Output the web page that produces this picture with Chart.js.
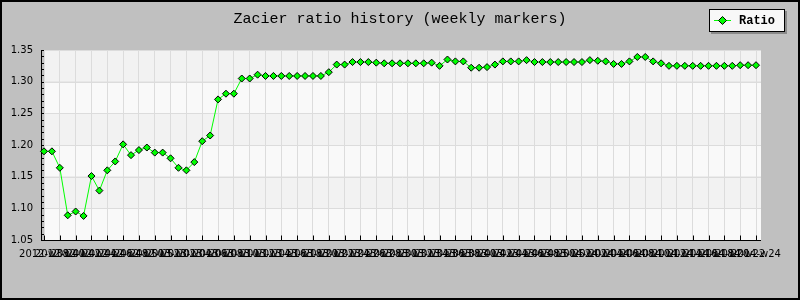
<!DOCTYPE html>
<html>
<head>
<meta charset="utf-8">
<script src="https://cdn.jsdelivr.net/npm/chart.js@4/dist/chart.umd.min.js"></script>
<style>
html,body{margin:0;padding:0;background:#c0c0c0;}
#wrap{width:800px;height:300px;}
</style>
</head>
<body>
<div id="wrap"><canvas id="c" width="800" height="300"></canvas></div>
<script>
const chartTitle = 'Zacier ratio history (weekly markers)';
const seriesName = 'Ratio';

const categories = [
 '2012-w38','2012-w39','2012-w40','2012-w41','2012-w42','2012-w43','2012-w44','2012-w45','2012-w46','2012-w47',
 '2012-w48','2012-w49','2012-w50','2012-w51','2012-w52','2013-w01','2013-w02','2013-w03','2013-w04','2013-w05',
 '2013-w06','2013-w07','2013-w08','2013-w09','2013-w10','2013-w11','2013-w12','2013-w13','2013-w14','2013-w15',
 '2013-w16','2013-w17','2013-w18','2013-w19','2013-w20','2013-w21','2013-w22','2013-w23','2013-w24','2013-w25',
 '2013-w26','2013-w27','2013-w28','2013-w29','2013-w30','2013-w31','2013-w32','2013-w33','2013-w34','2013-w35',
 '2013-w36','2013-w37','2013-w38','2013-w39','2013-w40','2013-w41','2013-w42','2013-w43','2013-w44','2013-w45',
 '2013-w46','2013-w47','2013-w48','2013-w49','2013-w50','2013-w51','2013-w52','2014-w01','2014-w02','2014-w03',
 '2014-w04','2014-w05','2014-w06','2014-w07','2014-w08','2014-w09','2014-w10','2014-w11','2014-w12','2014-w13',
 '2014-w14','2014-w15','2014-w16','2014-w17','2014-w18','2014-w19','2014-w20','2014-w21','2014-w22','2014-w23',
 '2014-w24'
];

const ratio = [
 1.190,1.190,1.164,1.089,1.095,1.088,1.151,1.128,1.160,1.174,
 1.201,1.184,1.192,1.196,1.188,1.188,1.179,1.164,1.160,1.173,
 1.206,1.215,1.272,1.281,1.281,1.305,1.305,1.311,1.309,1.309,
 1.309,1.309,1.309,1.309,1.309,1.309,1.315,1.327,1.327,1.331,
 1.331,1.331,1.330,1.329,1.329,1.329,1.329,1.329,1.329,1.330,
 1.325,1.335,1.332,1.332,1.322,1.322,1.323,1.327,1.332,1.332,
 1.332,1.334,1.331,1.331,1.331,1.331,1.331,1.331,1.331,1.334,
 1.333,1.332,1.328,1.328,1.332,1.339,1.339,1.332,1.329,1.325,
 1.325,1.325,1.325,1.325,1.325,1.325,1.325,1.325,1.326,1.326,
 1.326
];

const yMin = 1.05, yMax = 1.35, yStep = 0.05, yMinorStep = 0.01;

const deco = {
  id: 'deco',
  beforeDraw(chart) {
    const {ctx, chartArea: a, scales: {y}} = chart;
    const right = a.right + 5;
    ctx.save();
    ctx.fillStyle = '#c0c0c0';
    ctx.fillRect(0, 0, chart.width, chart.height);
    ctx.strokeStyle = '#000';
    ctx.lineWidth = 2;
    ctx.strokeRect(1, 1, chart.width - 2, chart.height - 2);
    const t = y.ticks;
    for (let i = 0; i < t.length - 1; i++) {
      const yb = y.getPixelForValue(t[i].value);
      const yt = y.getPixelForValue(t[i + 1].value);
      ctx.fillStyle = i % 2 === 0 ? '#f9f9f9' : '#f2f2f2';
      ctx.fillRect(a.left, yt, right - a.left, yb - yt);
    }
    ctx.strokeStyle = '#dcdcdc';
    ctx.lineWidth = 1;
    for (let i = 0; i < t.length; i++) {
      const py = Math.round(y.getPixelForValue(t[i].value)) + 0.5;
      ctx.beginPath(); ctx.moveTo(a.left, py); ctx.lineTo(right, py); ctx.stroke();
    }
    ctx.restore();
  },
  beforeDatasetsDraw(chart) {
    const {ctx, chartArea: a, scales: {x, y}} = chart;
    const right = a.right + 5;
    ctx.save();
    ctx.strokeStyle = '#000';
    ctx.lineWidth = 1;
    const ax = a.left - 2.5;
    ctx.beginPath(); ctx.moveTo(ax, a.top); ctx.lineTo(ax, a.bottom + 1); ctx.stroke();
    const n = Math.round((yMax - yMin) / yMinorStep);
    for (let k = 0; k <= n; k++) {
      const py = Math.round(y.getPixelForValue(yMin + k * yMinorStep)) + 0.5;
      ctx.beginPath(); ctx.moveTo(ax, py); ctx.lineTo(a.left, py); ctx.stroke();
    }
    const by = Math.round(a.bottom) + 0.5;
    ctx.beginPath(); ctx.moveTo(ax - 0.5, by); ctx.lineTo(right, by); ctx.stroke();
    for (let i = 0; i < x.ticks.length; i += 2) {
      const px = Math.round(x.getPixelForTick(i)) + 0.5;
      ctx.beginPath(); ctx.moveTo(px, by); ctx.lineTo(px, by - 5); ctx.stroke();
    }
    ctx.restore();
  },
  afterDraw(chart) {
    const {ctx} = chart;
    ctx.save();
    const bx = 709, byy = 9, bw = 75, bh = 22;
    ctx.fillStyle = '#8a8a8a';
    ctx.fillRect(bx + 2, byy + 2, bw + 1, bh + 1);
    ctx.fillStyle = '#f8f8f8';
    ctx.fillRect(bx, byy, bw, bh);
    ctx.strokeStyle = '#000';
    ctx.lineWidth = 1;
    ctx.strokeRect(bx + 0.5, byy + 0.5, bw, bh);
    const ly = 20.5;
    ctx.strokeStyle = '#00ff00';
    ctx.beginPath(); ctx.moveTo(714, ly); ctx.lineTo(731, ly); ctx.stroke();
    ctx.fillStyle = '#00ff00';
    ctx.strokeStyle = '#000';
    const cx = 722.5, r = 4;
    ctx.beginPath();
    ctx.moveTo(cx, ly - r); ctx.lineTo(cx + r, ly); ctx.lineTo(cx, ly + r); ctx.lineTo(cx - r, ly);
    ctx.closePath(); ctx.fill(); ctx.stroke();
    ctx.fillStyle = '#000';
    ctx.font = 'bold 12px "Liberation Mono"';
    ctx.textBaseline = 'middle';
    ctx.textAlign = 'left';
    ctx.fillText(seriesName, 739, ly);
    ctx.restore();
  }
};

new Chart(document.getElementById('c'), {
  type: 'line',
  data: {
    labels: categories,
    datasets: [{
      label: seriesName,
      data: ratio,
      borderColor: '#00ff00',
      borderWidth: 1,
      pointStyle: 'rectRot',
      pointRadius: 3.5,
      pointBorderWidth: 1,
      pointBorderColor: '#000',
      pointBackgroundColor: '#00ff00',
      tension: 0,
      fill: false
    }]
  },
  options: {
    responsive: false,
    animation: false,
    devicePixelRatio: 1,
    layout: {padding: 0},
    plugins: {
      legend: {display: false},
      tooltip: {enabled: false},
      title: {
        display: true,
        text: chartTitle,
        color: '#000',
        font: {family: '"Liberation Mono"', size: 15, weight: 'normal'},
        padding: {top: 10, bottom: 22}
      }
    },
    scales: {
      x: {
        type: 'category',
        offset: false,
        grid: {
          display: true,
          drawTicks: false,
          color: (c) => (c.index % 2 === 0 ? '#dcdcdc' : 'rgba(0,0,0,0)'),
          lineWidth: 1
        },
        border: {display: false},
        ticks: {
          autoSkip: false,
          maxRotation: 0,
          minRotation: 0,
          padding: 8,
          color: '#000',
          font: {family: '"DejaVu Sans"', size: 10},
          callback: function (v, i) { return i % 2 === 0 ? this.getLabelForValue(v) : ''; }
        },
        afterFit: (s) => { s.height = 60; }
      },
      y: {
        type: 'linear',
        min: yMin,
        max: yMax,
        grid: {display: false, drawTicks: false},
        border: {display: false},
        ticks: {
          stepSize: yStep,
          padding: 11,
          color: '#000',
          font: {family: '"DejaVu Sans"', size: 10},
          callback: (v) => Number(v).toFixed(2)
        },
        afterFit: (s) => { s.width = 44; }
      },
      yRightSpace: {
        type: 'linear',
        position: 'right',
        min: yMin,
        max: yMax,
        grid: {display: false, drawTicks: false},
        border: {display: false},
        ticks: {display: false},
        afterFit: (s) => { s.width = 44; }
      }
    }
  },
  plugins: [deco]
});
</script>
</body>
</html>
